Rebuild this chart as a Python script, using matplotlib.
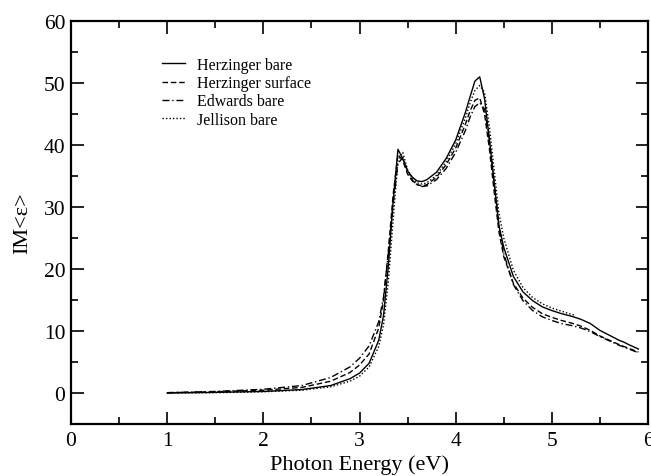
import matplotlib
matplotlib.use("Agg")
import matplotlib.pyplot as plt
from matplotlib.ticker import MultipleLocator

plt.rcParams['font.family'] = ['Liberation Serif', 'DejaVu Serif']

energy = [1.0, 1.5, 2.0, 2.4, 2.7, 2.9, 3.0, 3.1, 3.2, 3.25, 3.3, 3.35, 3.4, 3.45, 3.5,
          3.55, 3.6, 3.65, 3.7, 3.8, 3.9, 4.0, 4.1, 4.15, 4.2, 4.25, 4.3, 4.35, 4.4, 4.45,
          4.5, 4.6, 4.7, 4.8, 4.9, 5.0, 5.1, 5.2, 5.3, 5.4, 5.5, 5.6, 5.7, 5.75, 5.8, 5.9]

herzinger_bare = [0.0, 0.1, 0.25, 0.55, 1.2, 2.3, 3.2, 4.8, 8.5, 12.5, 20.5, 31.0, 39.3, 37.8, 35.8,
                  34.8, 34.2, 34.1, 34.4, 35.6, 37.8, 40.8, 45.2, 47.8, 50.3, 51.0, 47.5, 41.0, 34.0, 27.0,
                  23.5, 18.8, 16.3, 14.9, 13.9, 13.3, 12.8, 12.4, 11.9, 11.2, 10.1, 9.3, 8.5, 8.2, 7.8, 7.1]

herzinger_surface = [0.05, 0.2, 0.45, 0.9, 1.9, 3.3, 4.5, 6.3, 10.5, 15.0, 23.0, 32.0, 38.5, 37.5, 35.3,
                     34.2, 33.6, 33.4, 33.6, 34.8, 36.8, 39.5, 43.3, 45.5, 47.2, 47.6, 45.0, 39.5, 32.5, 26.0,
                     22.0, 17.7, 15.3, 13.8, 12.8, 12.2, 11.7, 11.3, 10.8, 10.1, 9.2, 8.5, 7.8, 7.5, 7.2, 6.6]

edwards_bare = [0.05, 0.25, 0.6, 1.2, 2.5, 4.2, 5.6, 7.6, 11.5, 15.5, 22.5, 30.5, 37.0, 38.0, 35.8,
                34.3, 33.6, 33.3, 33.4, 34.4, 36.2, 38.8, 42.3, 44.5, 46.2, 46.8, 45.8, 41.0, 34.0, 27.0,
                22.5, 17.5, 14.9, 13.3, 12.3, 11.7, 11.2, 10.9, 10.5, 9.9, 9.1, 8.4, 7.7, 7.4, 7.1, 6.5]

energy_jellison = [1.0, 1.5, 2.0, 2.4, 2.7, 2.9, 3.0, 3.1, 3.2, 3.25, 3.3, 3.35, 3.4, 3.45, 3.5,
                   3.55, 3.6, 3.65, 3.7, 3.8, 3.9, 4.0, 4.1, 4.15, 4.2, 4.25, 4.3, 4.35, 4.4, 4.45,
                   4.5, 4.6, 4.7, 4.8, 4.9, 5.0, 5.1, 5.2, 5.25]
jellison_bare = [0.0, 0.05, 0.2, 0.45, 1.0, 1.9, 2.7, 4.2, 7.5, 11.0, 18.0, 28.0, 37.5, 38.8, 36.0,
                 34.6, 33.9, 33.7, 33.9, 35.1, 37.3, 40.2, 44.3, 46.8, 48.8, 49.6, 48.5, 43.0, 36.0, 29.0,
                 25.0, 19.8, 17.0, 15.4, 14.4, 13.7, 13.2, 12.7, 12.5]

labels = ["Herzinger bare", "Herzinger surface", "Edwards bare", "Jellison bare"]

fig = plt.figure(figsize=(6.51, 4.77), dpi=100)
ax = fig.add_axes([71/651, 1 - 425/477, (648 - 71)/651, (425 - 22)/477])

lw = 1.0
ax.plot(energy, herzinger_bare, color='black', lw=lw, ls='-', label=labels[0])
ax.plot(energy, herzinger_surface, color='black', lw=lw, ls=(0, (4, 2)), label=labels[1])
ax.plot(energy, edwards_bare, color='black', lw=lw, ls=(0, (5, 2, 1, 2)), label=labels[2])
ax.plot(energy_jellison, jellison_bare, color='black', lw=lw, ls=(0, (1, 1.5)), label=labels[3])

ax.set_xlim(0, 6)
ax.set_ylim(-5, 60)
ax.xaxis.set_major_locator(MultipleLocator(1))
ax.xaxis.set_minor_locator(MultipleLocator(0.5))
ax.yaxis.set_major_locator(MultipleLocator(10))
ax.yaxis.set_minor_locator(MultipleLocator(5))
ax.tick_params(which='both', direction='in', top=True, right=True, labelsize=15.5, width=1.2, color='black')
ax.tick_params(which='major', length=9)
ax.tick_params(which='minor', length=5)
ax.tick_params(axis='x', pad=5)
ax.tick_params(axis='y', pad=4)
for s in ax.spines.values():
    s.set_linewidth(1.6)

ax.set_xlabel("Photon Energy (eV)", fontsize=16, labelpad=3)
ax.set_ylabel("IM<ε>", fontsize=16, labelpad=8)

leg = ax.legend(loc='upper left', bbox_to_anchor=(162/651, 1 - 58/477), bbox_transform=fig.transFigure,
                frameon=False, fontsize=11.5, handlelength=1.45, handletextpad=0.75,
                labelspacing=0.14, borderpad=0, borderaxespad=0)

fig.savefig("out.png", dpi=100)
